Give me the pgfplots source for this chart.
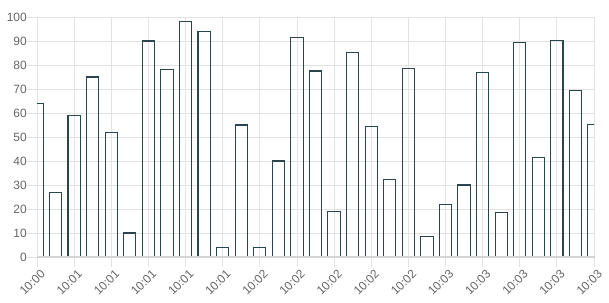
\documentclass[border=0pt]{standalone}
\usepackage{pgfplots}
\pgfplotsset{compat=1.18}
\usepackage{fontspec}
\setmainfont{Liberation Sans}
\definecolor{barc}{HTML}{2A464C}
\definecolor{gridc}{HTML}{E2E2E2}
\definecolor{basec}{HTML}{D4D4D4}
\definecolor{labc}{HTML}{666666}
\begin{document}
\begin{tikzpicture}
\begin{axis}[
 scale only axis, width=557pt, height=240pt,
 xmin=0, xmax=30, ymin=0, ymax=100,
 ytick={0,10,...,100},
 xtick={0,2,...,30},
 xticklabels={10:00,10:01,10:01,10:01,10:01,10:01,10:02,10:02,10:02,10:02,10:02,10:03,10:03,10:03,10:03,10:03},
 grid=major, major grid style={gridc, line width=0.8pt},
 axis line style={draw=none},
 xtick pos=bottom, ytick pos=left,
 tick align=outside, major tick length=10pt,
 tick style={gridc, line width=0.8pt},
 ticklabel style={font=\fontsize{12}{14}\selectfont, text=labc},
 /pgf/number format/assume math mode=true,
 xticklabel style={rotate=45, anchor=north east, inner sep=0pt, yshift=-3pt, xshift=1pt},
 yticklabel style={anchor=east, inner sep=0pt},
 ybar, bar width=0.66,
 clip=true,
]
\addplot[draw=barc, fill=none, line width=1.05pt] coordinates {
(0,64) (1,27) (2,59) (3,75) (4,52) (5,10) (6,90) (7,78) (8,98) (9,94)
(10,4) (11,55) (12,4) (13,40) (14,91.5) (15,77.5) (16,19) (17,85.3) (18,54.5) (19,32.3)
(20,78.5) (21,8.5) (22,22) (23,30) (24,76.7) (25,18.7) (26,89.5) (27,41.6) (28,90.4) (29,69.5)
(30,55.3)
};
\end{axis}
\draw[basec, line width=1.2pt] (current axis.south west) -- (current axis.south east);
\pgfresetboundingbox
\path[use as bounding box] ([xshift=-37pt,yshift=-45pt]current axis.south west) rectangle ([xshift=15pt,yshift=17pt]current axis.north east);
\end{tikzpicture}
\end{document}
